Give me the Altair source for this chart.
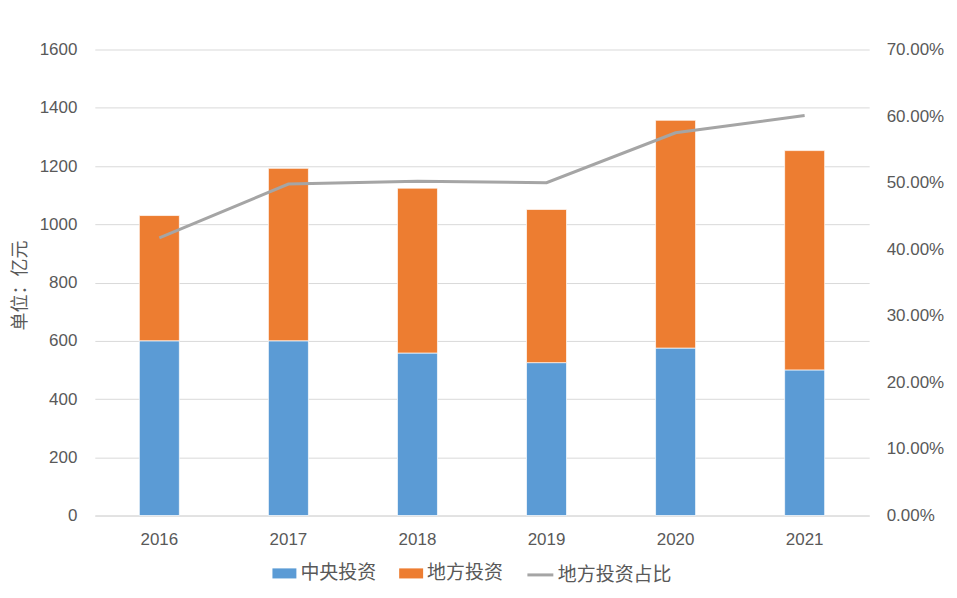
import altair as alt
import pandas as pd

years = ["2016", "2017", "2018", "2019", "2020", "2021"]
central = [600, 600, 558, 525, 575, 500]
local = [430, 592, 566, 526, 782, 753]
local_share = [0.417, 0.498, 0.502, 0.500, 0.575, 0.601]
series_bar = ["中央投资", "地方投资"]
series_line = "地方投资占比"
left_ticks = [0, 200, 400, 600, 800, 1000, 1200, 1400, 1600]
right_ticks = [0, 0.1, 0.2, 0.3, 0.4, 0.5, 0.6, 0.7]

bars_df = pd.DataFrame({
    "year": years * 2,
    "series": [series_bar[0]] * len(years) + [series_bar[1]] * len(years),
    "value": central + local,
    "order": [0] * len(years) + [1] * len(years),
})
line_df = pd.DataFrame({"year": years, "series": [series_line] * len(years), "share": local_share})

LATIN = "Liberation Sans, Arial, sans-serif"
CJK = "Noto Sans CJK SC"
TXT = "#595959"
GRID = "#D9D9D9"

x_enc = alt.X(
    "year:N", sort=years, title=None,
    scale=alt.Scale(paddingInner=0.69, paddingOuter=0.345),
    axis=alt.Axis(labelAngle=0, labelFont=LATIN, labelFontSize=17, labelColor=TXT,
                  domainColor=GRID, domainWidth=1, ticks=False, labelPadding=16, grid=False),
)

bars = alt.Chart(bars_df).mark_bar(stroke="white", strokeWidth=0.7).encode(
    x=x_enc,
    y=alt.Y(
        "value:Q", stack="zero", title="单位：亿元",
        scale=alt.Scale(domain=[0, 1600], nice=False),
        axis=alt.Axis(values=left_ticks, format="d", grid=True, gridColor=GRID, gridWidth=1,
                      domain=False, ticks=False, labelPadding=18, labelFont=LATIN,
                      labelFontSize=17, labelColor=TXT, titleFont=CJK, titleFontSize=18,
                      titleFontWeight="normal", titleColor=TXT, titleX=-74, titleY=236,
                      titleBaseline="middle"),
    ),
    fill=alt.Fill(
        "series:N",
        scale=alt.Scale(domain=series_bar, range=["#5B9BD5", "#ED7D31"]),
        legend=alt.Legend(title=None, orient="none", direction="horizontal", legendX=178,
                          legendY=513, symbolType="M-1,-0.42H1V0.42H-1Z", symbolSize=576,
                          symbolStrokeWidth=0, labelFont=CJK, labelFontSize=19,
                          labelColor=TXT, labelOffset=4, columnPadding=22),
    ),
    order=alt.Order("order:Q"),
)

line = alt.Chart(line_df).mark_line(strokeWidth=3).encode(
    x=alt.X("year:N", sort=years),
    y=alt.Y(
        "share:Q", title=None,
        scale=alt.Scale(domain=[0, 0.7], nice=False),
        axis=alt.Axis(orient="right", values=right_ticks, format=".2%", grid=False, domain=False,
                      ticks=False, labelPadding=17, labelFont=LATIN, labelFontSize=17,
                      labelColor=TXT),
    ),
    stroke=alt.Stroke(
        "series:N",
        scale=alt.Scale(domain=[series_line], range=["#A5A5A5"]),
        legend=alt.Legend(title=None, orient="none", direction="horizontal", legendX=432,
                          legendY=512, symbolType="stroke", symbolSize=676,
                          symbolStrokeWidth=3, labelFont=CJK, labelFontSize=19,
                          labelColor=TXT, labelOffset=3),
    ),
)

chart = alt.layer(bars, line).resolve_scale(y="independent").properties(
    width=776, height=467,
    autosize=alt.AutoSizeParams(type="none"),
    padding={"left": 87, "top": 41, "right": 80, "bottom": 74},
).configure(background="white").configure_view(stroke="transparent", strokeWidth=0)

chart.save("out.html", embed_options={"renderer": "svg", "actions": False})
